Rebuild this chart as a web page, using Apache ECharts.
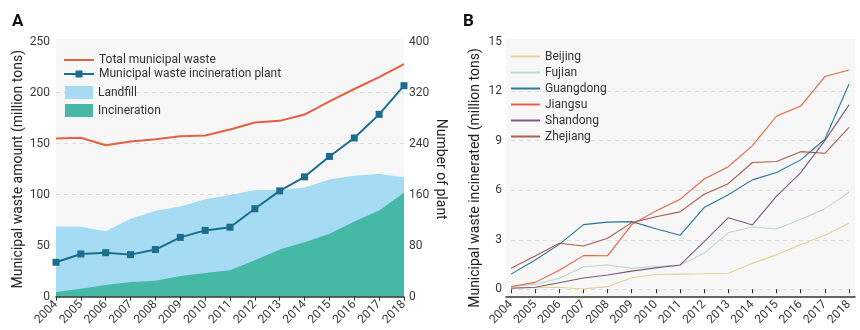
<!DOCTYPE html>
<html>
<head>
<meta charset="utf-8">
<script src="https://cdn.jsdelivr.net/npm/echarts@6/dist/echarts.min.js"></script>
<style>
html,body{margin:0;padding:0;background:#fff;}
#chart{width:860px;height:330px;}
</style>
</head>
<body>
<div id="chart"></div>
<script>
// ---- Data ----
var years = ['2004','2005','2006','2007','2008','2009','2010','2011','2012','2013','2014','2015','2016','2017','2018'];
// Panel A (million tons / number of plants)
var totalWaste   = [155.09,155.77,148.41,152.15,154.38,157.34,158.05,163.95,170.81,172.39,178.6,191.42,203.62,215.21,228.02];
var landfill     = [68.9,68.6,64.1,76.3,84.2,88.5,95.5,99.8,104.3,104.6,107.0,115.0,118.5,120.2,117.2];
var incineration = [4.49,7.91,11.37,14.35,15.7,20.22,23.17,25.99,35.84,46.33,53.3,61.76,73.78,84.63,101.85];
var plants       = [54,67,69,66,74,93,104,109,138,166,188,220,249,286,331];
// Panel B (million tons incinerated)
var beijing   = [0.08,0.1,0.12,0.02,0.16,0.7,0.9,0.92,0.94,0.97,1.57,2.1,2.72,3.27,4.0];
var fujian    = [0.15,0.3,0.65,1.37,1.47,1.27,1.38,1.45,2.18,3.43,3.77,3.65,4.24,4.87,5.88];
var guangdong = [0.92,1.78,2.72,3.92,4.07,4.1,3.67,3.27,4.95,5.73,6.63,7.07,7.84,9.09,12.44];
var jiangsu   = [0.17,0.42,1.15,2.04,2.03,3.92,4.75,5.45,6.68,7.43,8.7,10.5,11.1,12.89,13.29];
var shandong  = [0.06,0.12,0.4,0.68,0.87,1.1,1.3,1.47,2.89,4.34,3.9,5.65,7.07,9.01,11.17];
var zhejiang  = [1.27,2.02,2.79,2.62,3.09,4.04,4.4,4.69,5.76,6.4,7.68,7.74,8.34,8.24,9.81];
var provinces = ['Beijing','Fujian','Guangdong','Jiangsu','Shandong','Zhejiang'];
var provinceData = [beijing, fujian, guangdong, jiangsu, shandong, zhejiang];
var provinceColors = ['#e3d38e','#b8d8ca','#2676a0','#e8603c','#7d5a7b','#ad5a4c'];
var leftTicksA = [0,250,50];
var rightTicksA = [0,400,80];
var ticksB = [0,15,3];

var FONT = 'Roboto';
var labelColor = '#3a3a3a';
var nameColor = '#222';
var bg = '#f7f7f7';

var LINE_ICON = 'path://M0,0H30V2H0Z';
var LINE_SQ_ICON = 'path://M0,4H11.5V1.5H18.5V4H30V6H18.5V8.5H11.5V6H0Z';

var chart = echarts.init(document.getElementById('chart'), null, {renderer:'canvas'});

function hiddenAxis(gridIndex){
  return {type:'value', gridIndex:gridIndex, show:false, min:0, max:1};
}

var provinceSeries = provinces.map(function(p, i){
  return {
    name:p, type:'line', xAxisIndex:3, yAxisIndex:4,
    data:provinceData[i], symbol:'none', smooth:false,
    lineStyle:{width:1.1, color:provinceColors[i]},
    itemStyle:{color:provinceColors[i]},
    z:5
  };
});

var option = {
  animation:false,
  textStyle:{fontFamily:FONT},
  title:[
    {text:'A', left:12, top:13, padding:0, textStyle:{fontFamily:FONT, fontSize:17, fontWeight:'bold', color:'#111'}},
    {text:'B', left:463, top:13, padding:0, textStyle:{fontFamily:FONT, fontSize:17, fontWeight:'bold', color:'#111'}}
  ],
  grid:[
    {left:56, right:456, top:39, bottom:33.3, show:true, backgroundColor:bg, borderWidth:0},
    {left:56, right:456, top:41.7, bottom:33.3, containLabel:false},
    {left:506, right:5, top:39, bottom:33.3, show:true, backgroundColor:bg, borderWidth:0},
    {left:511, right:11, top:41.7, bottom:40.7, containLabel:false}
  ],
  legend:[
    {orient:'vertical', left:64, top:54, padding:0, itemWidth:30, itemHeight:10, itemGap:2,
     textStyle:{fontFamily:FONT, fontSize:12, color:'#333'},
     data:[{name:'Total municipal waste', icon:LINE_ICON},
           {name:'Municipal waste incineration plant', icon:LINE_SQ_ICON}]},
    {orient:'vertical', left:65, top:86, padding:0, itemWidth:28, itemHeight:13, itemGap:5,
     textStyle:{fontFamily:FONT, fontSize:12, color:'#333'},
     data:[{name:'Landfill', icon:'rect'},{name:'Incineration', icon:'rect'}]},
    {orient:'vertical', left:511, top:50.5, padding:0, itemWidth:29, itemHeight:12, itemGap:4,
     textStyle:{fontFamily:FONT, fontSize:12, color:'#333'},
     data:provinces.map(function(p){ return {name:p, icon:LINE_ICON}; })}
  ],
  xAxis:[
    hiddenAxis(0),
    {type:'category', gridIndex:1, data:years, boundaryGap:false,
     axisLine:{lineStyle:{color:'#333', width:1.5}},
     axisTick:{show:true, length:4, lineStyle:{color:'#333'}},
     axisLabel:{rotate:45, fontSize:12, color:labelColor, margin:6, interval:0, fontFamily:FONT},
     splitLine:{show:false}, z:10},
    {type:'value', gridIndex:2, min:0, max:1, show:true,
     axisLine:{show:true, lineStyle:{color:'#333', width:1.5}},
     axisTick:{show:false}, axisLabel:{show:false}, splitLine:{show:false}},
    {type:'category', gridIndex:3, data:years, boundaryGap:false, offset:7.4,
     axisLine:{show:false},
     axisTick:{show:true, length:4, lineStyle:{color:'#333'}},
     axisLabel:{rotate:45, fontSize:12, color:labelColor, margin:6, interval:0, fontFamily:FONT},
     splitLine:{show:false}}
  ],
  yAxis:[
    hiddenAxis(0),
    {type:'value', gridIndex:1, min:leftTicksA[0], max:leftTicksA[1], interval:leftTicksA[2],
     axisLine:{show:false}, axisTick:{show:false},
     axisLabel:{fontSize:12, color:labelColor, margin:6, fontFamily:FONT},
     splitLine:{show:true, showMaxLine:false, lineStyle:{color:'#dcdcdc', type:[4,4], width:1}},
     name:'Municipal waste amount (million tons)', nameLocation:'middle', nameGap:30,
     nameTextStyle:{fontSize:14, color:nameColor, fontFamily:FONT}},
    {type:'value', gridIndex:1, position:'right', min:rightTicksA[0], max:rightTicksA[1], interval:rightTicksA[2],
     axisLine:{show:false}, axisTick:{show:false},
     axisLabel:{fontSize:12, color:labelColor, margin:5, fontFamily:FONT},
     splitLine:{show:false},
     name:'Number of plant', nameLocation:'middle', nameGap:29, nameRotate:-90,
     nameTextStyle:{fontSize:14, color:nameColor, fontFamily:FONT}},
    hiddenAxis(2),
    {type:'value', gridIndex:3, min:ticksB[0], max:ticksB[1], interval:ticksB[2],
     axisLine:{show:false}, axisTick:{show:false},
     axisLabel:{fontSize:12, color:labelColor, margin:9, fontFamily:FONT},
     splitLine:{show:true, showMaxLine:false, lineStyle:{color:'#dcdcdc', type:[4,4], width:1}},
     name:'Municipal waste incinerated (million tons)', nameLocation:'middle', nameGap:29,
     nameTextStyle:{fontSize:14, color:nameColor, fontFamily:FONT, padding:[0,25,0,0]}}
  ],
  series:[
    {name:'Landfill', type:'line', xAxisIndex:1, yAxisIndex:1, data:landfill,
     symbol:'none', lineStyle:{width:0}, areaStyle:{color:'#a5dbf3', opacity:1},
     itemStyle:{color:'#a5dbf3'}, z:1},
    {name:'Incineration', type:'line', xAxisIndex:1, yAxisIndex:1, data:incineration,
     symbol:'none', lineStyle:{width:0}, areaStyle:{color:'#45b9a5', opacity:1},
     itemStyle:{color:'#45b9a5'}, z:2},
    {name:'Total municipal waste', type:'line', xAxisIndex:1, yAxisIndex:1, data:totalWaste,
     symbol:'none', lineStyle:{width:2, color:'#e5603f'}, itemStyle:{color:'#e5603f'}, z:3},
    {name:'Municipal waste incineration plant', type:'line', xAxisIndex:1, yAxisIndex:2, data:plants,
     symbol:'rect', symbolSize:7, showSymbol:true,
     lineStyle:{width:2, color:'#1c6d8d'}, itemStyle:{color:'#1c6d8d'}, z:4}
  ].concat(provinceSeries)
};
chart.setOption(option);
</script>
</body>
</html>
